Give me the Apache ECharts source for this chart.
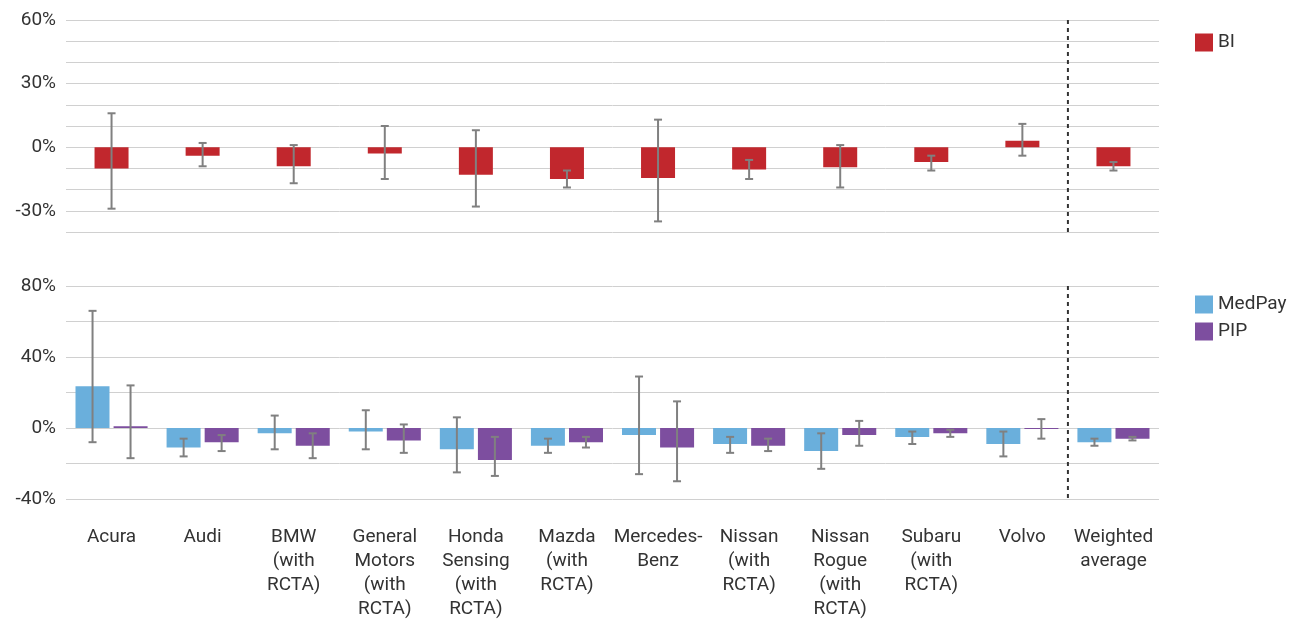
<!DOCTYPE html>
<html>
<head>
<meta charset="UTF-8">
<style>html,body{margin:0;padding:0;background:#fff}#main{width:1303px;height:628px}</style>
<script src="https://cdn.jsdelivr.net/npm/echarts@6/dist/echarts.min.js"></script>
</head>
<body>
<div id="main"></div>
<script>
var categories = ['Acura', 'Audi', 'BMW\n(with\nRCTA)', 'General\nMotors\n(with\nRCTA)', 'Honda\nSensing\n(with\nRCTA)',
  'Mazda\n(with\nRCTA)', 'Mercedes-\nBenz', 'Nissan\n(with\nRCTA)', 'Nissan\nRogue\n(with\nRCTA)', 'Subaru\n(with\nRCTA)', 'Volvo', 'Weighted\naverage'];
var bi =      [-10, -4, -9, -3, -13, -15, -14.5, -10.5, -9.5, -7, 3, -9];
var biHigh =  [16, 2, 1, 10, 8, -11, 13, -6, 1, -4, 11, -7];
var biLow =   [-29, -9, -17, -15, -28, -19, -35, -15, -19, -11, -4, -11];
var medpay =      [23.5, -11, -3, -2, -12, -10, -4, -9, -13, -5, -9, -8];
var medpayHigh =  [66, -6, 7, 10, 6, -6, 29, -5, -3, -2, -2, -6];
var medpayLow =   [-8, -16, -12, -12, -25, -14, -26, -14, -23, -9, -16, -10];
var pip =      [1, -8, -10, -7, -18, -8, -11, -10, -4, -3, -0.5, -6];
var pipHigh =  [24, -4, -3, 2, -5, -5, 15, -6, 4, -1, 5, -5];
var pipLow =   [-17, -13, -17, -14, -27, -11, -30, -13, -10, -5, -6, -7];

var FONT = '"Roboto", sans-serif';
var TXT = '#333';

function errData(high, low) {
  return high.map(function (h, i) { return [i, h, low[i]]; });
}
function errSeries(name, xi, yi, high, low, offset) {
  return {
    type: 'custom', name: name, xAxisIndex: xi, yAxisIndex: yi, z: 5, silent: true,
    data: errData(high, low),
    renderItem: function (params, api) {
      var a = api.coord([api.value(0), api.value(1)]);
      var b = api.coord([api.value(0), api.value(2)]);
      var x = a[0] + offset, c = 4;
      var st = { stroke: '#808080', lineWidth: 2 };
      return { type: 'group', children: [
        { type: 'line', shape: { x1: x, y1: a[1], x2: x, y2: b[1] }, style: st },
        { type: 'line', shape: { x1: x - c, y1: a[1], x2: x + c, y2: a[1] }, style: st },
        { type: 'line', shape: { x1: x - c, y1: b[1], x2: x + c, y2: b[1] }, style: st }
      ] };
    }
  };
}

var chart = echarts.init(document.getElementById('main'));
var splitLine = { show: true, lineStyle: { color: '#d0d0d0', width: 1 } };
var labelStyle = { color: TXT, fontFamily: FONT, fontSize: 19 };

chart.setOption({
  animation: false,
  grid: [
    { left: 66, right: 144, top: 20, height: 212 },
    { left: 66, right: 144, top: 286, height: 213 }
  ],
  legend: [
    { data: ['BI'], left: 1190, top: 28, orient: 'vertical', itemWidth: 18, itemHeight: 18, icon: 'rect',
      textStyle: { color: TXT, fontFamily: FONT, fontSize: 19 } },
    { data: ['MedPay', 'PIP'], left: 1190, top: 290, orient: 'vertical', itemWidth: 18, itemHeight: 18, itemGap: 8, icon: 'rect',
      textStyle: { color: TXT, fontFamily: FONT, fontSize: 19 } }
  ],
  xAxis: [
    { type: 'category', gridIndex: 0, data: categories, axisLine: { show: false }, axisTick: { show: false }, axisLabel: { show: false } },
    { type: 'category', gridIndex: 1, data: categories, axisLine: { show: false }, axisTick: { show: false },
      axisLabel: { color: TXT, fontFamily: FONT, fontSize: 19, lineHeight: 24, interval: 0, margin: 26, verticalAlign: 'top' } }
  ],
  yAxis: [
    { type: 'value', gridIndex: 0, min: -40, max: 60, interval: 10, splitLine: splitLine, axisLine: { show: false }, axisTick: { show: false },
      axisLabel: Object.assign({ margin: 10, formatter: function (v) { return v % 30 === 0 ? v + '%' : ''; } }, labelStyle) },
    { type: 'value', gridIndex: 1, min: -40, max: 80, interval: 20, splitLine: splitLine, axisLine: { show: false }, axisTick: { show: false },
      axisLabel: Object.assign({ margin: 10, formatter: function (v) { return v % 40 === 0 ? v + '%' : ''; } }, labelStyle) }
  ],
  series: [
    { type: 'bar', name: 'BI', xAxisIndex: 0, yAxisIndex: 0, data: bi, barWidth: 34, itemStyle: { color: '#c1272d' } },
    errSeries('BIerr', 0, 0, biHigh, biLow, 0),
    { type: 'bar', name: 'MedPay', xAxisIndex: 1, yAxisIndex: 1, data: medpay, barWidth: 34, barGap: '12%', itemStyle: { color: '#6aafdc' } },
    { type: 'bar', name: 'PIP', xAxisIndex: 1, yAxisIndex: 1, data: pip, barWidth: 34, barGap: '12%', itemStyle: { color: '#7d4e9f' } },
    errSeries('MedPayErr', 1, 1, medpayHigh, medpayLow, -19),
    errSeries('PIPErr', 1, 1, pipHigh, pipLow, 19)
  ]
});

// dashed separator between Volvo and Weighted average
var xa = chart.convertToPixel({ xAxisIndex: 0 }, 10);
var xb = chart.convertToPixel({ xAxisIndex: 0 }, 11);
var xs = (xa + xb) / 2;
var dash = { stroke: '#333', lineWidth: 2, lineDash: [4, 4] };
chart.setOption({
  graphic: [
    { type: 'line', shape: { x1: xs, y1: 20, x2: xs, y2: 232 }, style: dash, z: 10 },
    { type: 'line', shape: { x1: xs, y1: 286, x2: xs, y2: 499 }, style: dash, z: 10 }
  ]
});
</script>
</body>
</html>
